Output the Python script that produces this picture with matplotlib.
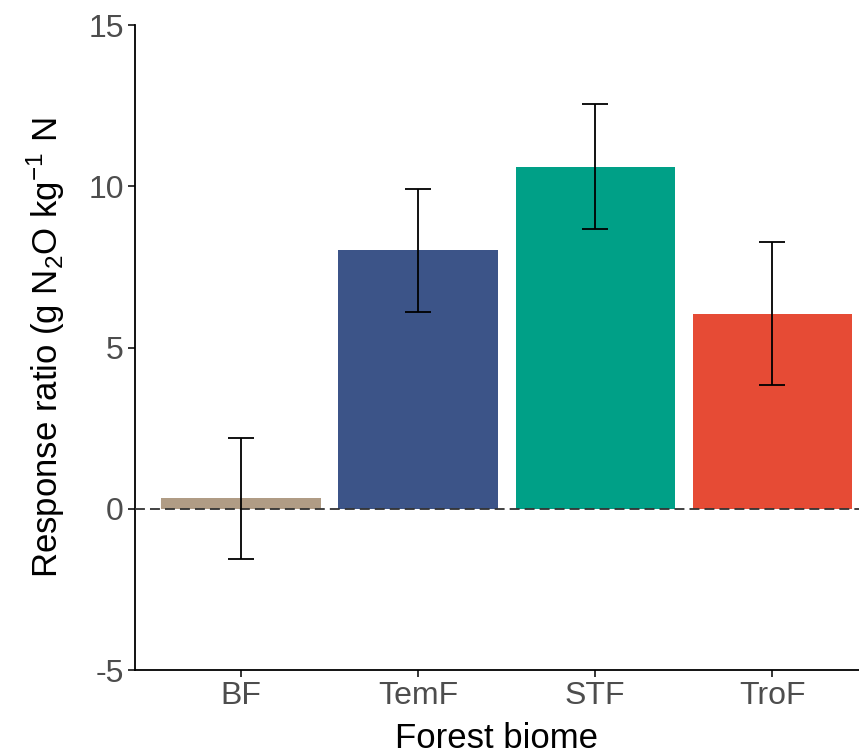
import numpy as np
import matplotlib.pyplot as plt

plt.rcParams['font.family'] = ['Liberation Sans', 'DejaVu Sans']
plt.rcParams['mathtext.fontset'] = 'custom'
plt.rcParams['mathtext.rm'] = 'Liberation Sans'
plt.rcParams['axes.unicode_minus'] = False

# --- Data ---
biomes = ["BF", "TemF", "STF", "TroF"]
response = [0.32, 8.02, 10.6, 6.05]
err_low = [-1.55, 6.1, 8.66, 3.85]
err_high = [2.2, 9.92, 12.55, 8.28]
colors = ["#B09C85", "#3C5488", "#00A087", "#E64B35"]

x = np.arange(1, len(biomes) + 1)
lower = np.array(response) - np.array(err_low)
upper = np.array(err_high) - np.array(response)

fig = plt.figure(figsize=(8.59, 7.54), dpi=100)
ax = fig.add_axes([0.157, 0.1114, 0.843, 0.8554])

ax.bar(x, response, width=0.9, color=colors, zorder=2)
ax.axhline(0, color="#333333", lw=1.3, ls=(0, (5.5, 2.8)), zorder=3)
ax.errorbar(x, response, yerr=[lower, upper], fmt="none", ecolor="black",
            elinewidth=1.3, capsize=9.5, capthick=1.3, zorder=4)

ax.set_xlim(0.4, 4.49)
ax.set_ylim(-5, 15)
ax.set_yticks([-5, 0, 5, 10, 15])
ax.set_xticks(x)
ax.set_xticklabels(biomes)

for s in ["top", "right"]:
    ax.spines[s].set_visible(False)
for s in ["left", "bottom"]:
    ax.spines[s].set_linewidth(1.3)
ax.tick_params(axis="both", labelsize=23, colors="black", labelcolor="#4D4D4D",
               width=1.1, length=5, pad=3)

ax.set_xlabel("Forest biome", fontsize=25, labelpad=8)
ax.set_ylabel(r"Response ratio (g N$_\mathrm{2}$O kg$^\mathrm{-1}$ N", fontsize=25, labelpad=15)

fig.savefig("out.png", dpi=100)
